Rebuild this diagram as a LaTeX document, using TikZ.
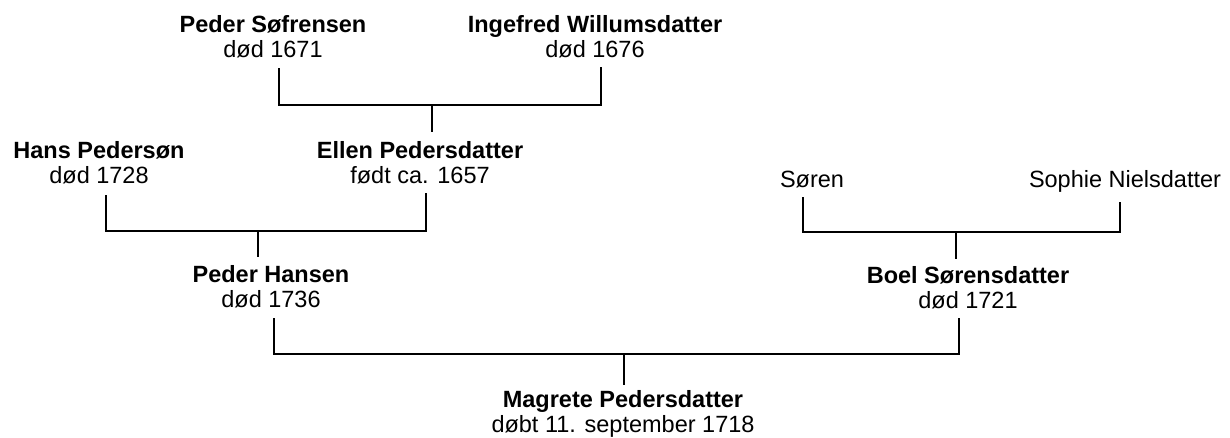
\documentclass[tikz,border=0pt]{standalone}
\usepackage{fontspec}
\setmainfont{Liberation Sans}
\usepackage{tikz}

\begin{document}
\begin{tikzpicture} [
	x=1pt,y=-1pt,
	person/.style={
		anchor=north,align=center,inner sep=0pt,
		font=\fontsize{23.5}{25.5}\selectfont},
	line/.style={
		draw=black,line width=2pt,line join=miter}]
\useasboundingbox (0,0) rectangle (1230,438);
\node [person]	(peder sof)	at (273,15)	{\textbf{Peder Søfrensen}\\død 1671};
\node [person]	(ingefred)	at (595,15)	{\textbf{Ingefred Willumsdatter}\\død 1676};
\node [person]	(hans)		at (99,141)	{\textbf{Hans Pedersøn}\\død 1728};
\node [person]	(ellen)		at (420,141)	{\textbf{Ellen Pedersdatter}\\født ca. 1657};
\node [person]	(soren)		at (812,171)	{Søren};
\node [person]	(sophie)	at (1125,170)	{Sophie Nielsdatter};
\node [person]	(peder han)	at (271,265)	{\textbf{Peder Hansen}\\død 1736};
\node [person]	(boel)		at (968,266)	{\textbf{Boel Sørensdatter}\\død 1721};
\node [person]	(magrete)	at (623,390)	{\textbf{Magrete Pedersdatter}\\døbt 11. september 1718};
\coordinate (bar top)	at (432,105);
\coordinate (bar hans)	at (258,231);
\coordinate (bar soren)	at (956,232);
\coordinate (bar low)	at (624,354);
\draw[line,shorten <=10pt,shorten >=9pt] ([xshift=6pt]peder sof.south) |- (bar top) -| ([xshift=6pt]ingefred.south);
\draw[line,shorten >=9pt] (bar top) -- (bar top |- ellen.north);
\draw[line,shorten <=11pt,shorten >=9pt] ([xshift=7pt]hans.south) |- (bar hans) -| ([xshift=6pt]ellen.south);
\draw[line,shorten >=8pt] (bar hans) -- (bar hans |- peder han.north);
\draw[line,shorten <=9pt,shorten >=10pt] ([xshift=-9pt]soren.south) |- (bar soren) -| ([xshift=-5pt]sophie.south);
\draw[line,shorten >=7pt] (bar soren) -- (bar soren |- boel.north);
\draw[line,shorten <=10pt,shorten >=9pt] ([xshift=3pt]peder han.south) |- (bar low) -| ([xshift=-9pt]boel.south);
\draw[line,shorten >=5pt] (bar low) -- (bar low |- magrete.north);
\end{tikzpicture}
\end{document}
